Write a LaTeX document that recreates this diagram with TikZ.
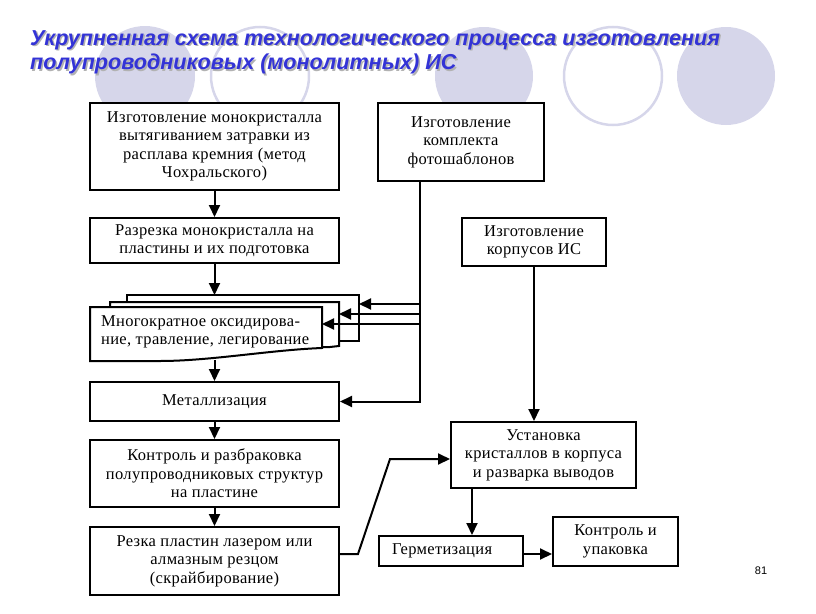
\documentclass[tikz,border=0pt]{standalone}
\usepackage{fontspec}
\setmainfont{Liberation Serif}[LetterSpace=2]
\newfontfamily\zagfont{Liberation Sans}
\usetikzlibrary{arrows.meta,calc}
\definecolor{krug}{RGB}{214,214,234}
\definecolor{zagsin}{RGB}{51,51,214}

\begin{document}
\begin{tikzpicture}[x=1pt,y=-1pt,
    blok/.style={draw,line width=2pt,fill=white,align=center,inner sep=0pt,
      font=\fontsize{16.5}{18.5}\selectfont},
    strelka/.style={line width=2pt,-{Triangle[length=12pt,width=11pt]}},
    list/.style={draw,line width=2pt,fill=white},
    zagolovok/.style={anchor=north west,align=left,inner sep=0pt,
      font=\zagfont\bfseries\itshape\fontsize{21.6}{24.5}\selectfont}]
  \useasboundingbox (0,0) rectangle (816,613);%

  % Background circles of the slide
  \fill[krug] (145,76) circle[radius=50];%
  \draw[krug,line width=2.5pt] (260,76) circle[radius=49];%
  \fill[krug] (484,76) circle[radius=49];%
  \draw[krug,line width=2.5pt] (613,76) circle[radius=49];%
  \fill[krug] (726,76) circle[radius=49];%

  % Title with its shadow
  \node[zagolovok,text=black!30] (zagten) at (31.5,31.5) {Укрупненная схема технологического процесса изготовления\\полупроводниковых (монолитных) ИС};%
  \node[zagolovok,text=zagsin] (zag) at (30,30) {Укрупненная схема технологического процесса изготовления\\полупроводниковых (монолитных) ИС};%

  % Left column of steps
  \node[blok,minimum width=249,minimum height=87] (monokr) at (214.5,146.5) {Изготовление монокристалла\\вытягиванием затравки из\\расплава кремния (метод\\Чохральского)};%
  \node[blok,minimum width=249,minimum height=45] (razrez) at (214.5,240.5) {Разрезка монокристалла на\\пластины и их подготовка};%
  \node[blok,minimum width=249,minimum height=39] (metall) at (214.5,401.5) {Металлизация};%
  \node[blok,minimum width=249,minimum height=67] (kontrol) at (214.5,473.5) {Контроль и разбраковка\\полупроводниковых структур\\на пластине};%
  \node[blok,minimum width=249,minimum height=68] (rezka) at (214.5,561) {Резка пластин лазером или\\алмазным резцом\\(скрайбирование)};%

  % Right column of steps
  \node[blok,minimum width=166,minimum height=78] (foto) at (461,142) {Изготовление\\комплекта\\фотошаблонов};%
  \node[blok,minimum width=144,minimum height=48] (korpus) at (534,242) {Изготовление\\корпусов ИС};%
  \node[blok,minimum width=185,minimum height=66] (ustan) at (543.5,455) {Установка\\кристаллов в корпуса\\и разварка выводов};%
  \node[blok,minimum width=144,minimum height=30] (germet) at (451,551) {};%
  \node[blok,anchor=west,draw=none,fill=none] (germtxt) at (391,551) {Герметизация};%
  \node[blok,minimum width=125,minimum height=49] (upak) at (615.5,541.5) {Контроль и\\упаковка};%

  % Stack of sheets for the repeated steps
  \draw[list] (127,295) rectangle (359,341);%
  \draw[list] (110,302) -- (339,302) -- (339,346) .. controls (334,346) .. (330,347) -- (110,347) -- cycle;%
  \draw[list] (90,307) -- (322,307) -- (322,348) .. controls (270,350) and (210,361) .. (160,361) -- (90,361) -- cycle;%
  \node[anchor=west,align=left,inner sep=0pt,font=\fontsize{16.5}{18.5}\selectfont] (oksid) at (101,332) {Многократное оксидирова-\\ние, травление, легирование};%

  % Named points on the sheets and on the bus line
  \coordinate (zad) at (359,304);%
  \coordinate (sred) at (339,314);%
  \coordinate (pered) at (322,324);%
  \coordinate (verh) at (214.5,295);%
  \coordinate (niz) at (214.5,360);%
  \coordinate (shina) at (420,0);%
  \coordinate (izlom) at (358,554);%
  \coordinate (izlom2) at (390,459);%
  \coordinate (spusk) at (472,0);%

  % Arrows of the left column
  \draw[strelka] (monokr) -- (razrez);%
  \draw[strelka] (razrez) -- (verh);%
  \draw[strelka] (niz) -- (metall);%
  \draw[strelka] (metall) -- (kontrol);%
  \draw[strelka] (kontrol) -- (rezka);%

  % Photomask bus into the stack and metallization
  \draw[strelka] (foto.south -| shina) |- (metall.east);%
  \draw[strelka] (zad -| shina) -- (zad);%
  \draw[strelka] (sred -| shina) -- (sred);%
  \draw[strelka] (pered -| shina) -- (pered);%

  % Arrows of the right column
  \draw[strelka] (korpus.south) -- (korpus.south |- ustan.north);%
  \draw[strelka] (rezka.east |- izlom) -- (izlom) -- (izlom2) -- (ustan.west |- izlom2);%
  \draw[strelka] (ustan.south -| spusk) -- (germet.north -| spusk);%
  \draw[strelka] ([yshift=-3pt]germet.east) -- ([yshift=-3pt]germet.east -| upak.west);%

  % Slide number
  \node[font=\zagfont\fontsize{11}{11}\selectfont] (nomer) at (761,571) {81};%
\end{tikzpicture}
\end{document}
